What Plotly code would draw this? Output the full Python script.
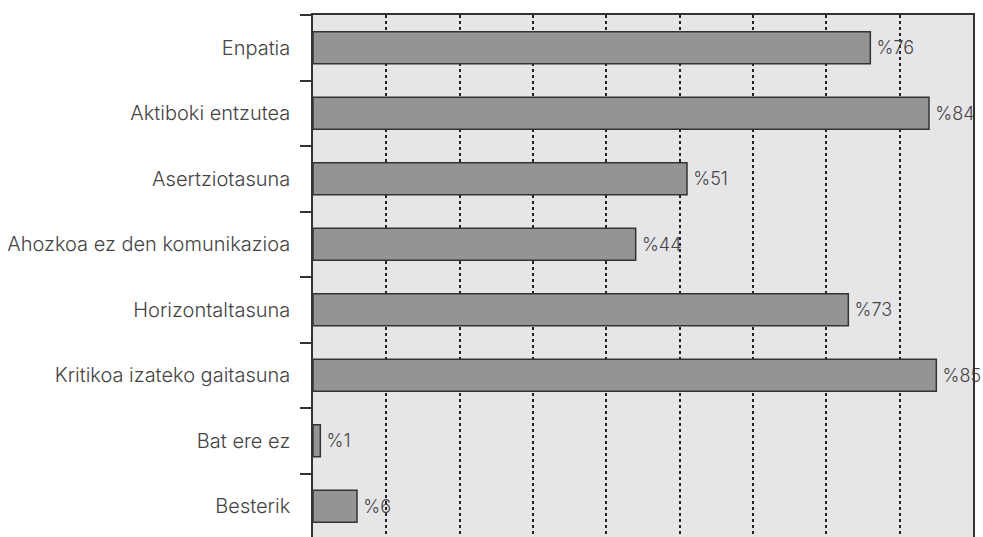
import plotly.graph_objects as go

categories = ["Enpatia", "Aktiboki entzutea", "Asertziotasuna", "Ahozkoa ez den komunikazioa",
              "Horizontaltasuna", "Kritikoa izateko gaitasuna", "Bat ere ez", "Besterik"]
values = [76, 84, 51, 44, 73, 85, 1, 6]
labels = ["\u2009%" + str(v) for v in values]

FONT = "Inter, Liberation Sans, Arial, sans-serif"

fig = go.Figure(go.Bar(
    x=values, y=categories, orientation="h",
    marker=dict(color="#949497", line=dict(color="#333333", width=1.5)),
    width=0.49,
    text=labels, textposition="outside", constraintext="none", cliponaxis=False,
    textfont=dict(family=FONT, size=18, color="#444444", weight=300),
    hoverinfo="skip",
))

fig.update_layout(
    width=983, height=545,
    margin=dict(l=313, r=10, t=15, b=6),
    paper_bgcolor="white", plot_bgcolor="#e6e6e8",
    font=dict(family=FONT, size=20, color="#444444", weight=300),
    showlegend=False,
    xaxis=dict(range=[0, 90], dtick=10, showticklabels=False, ticks="",
               showgrid=True, gridcolor="#222222", gridwidth=1.5, griddash="dot",
               showline=True, linecolor="#333333", linewidth=1.5, mirror=True, zeroline=False),
    yaxis=dict(autorange="reversed", tickson="boundaries", ticks="outside", ticklen=11,
               tickcolor="#333333", tickwidth=1.5, showgrid=False,
               showline=True, linecolor="#333333", linewidth=1.5, mirror=True,
               ticklabelstandoff=17),
)

fig.write_html(
    "out.html",
    config={"displayModeBar": False},
    post_script="document.body.style.margin='0';document.documentElement.style.overflow='hidden';document.body.style.overflow='hidden';",
)
